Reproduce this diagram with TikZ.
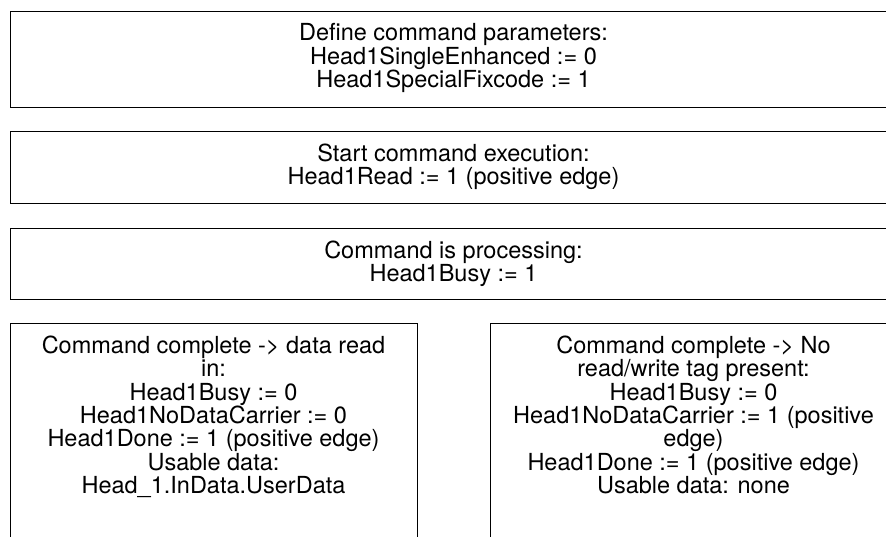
\documentclass[tikz,border=0pt]{standalone}
\usepackage{fontspec}
\setmainfont{TeX Gyre Heros}
\newcommand{\toprule}{\rule{0pt}{18pt}}
\begin{document}
\begin{tikzpicture}[x=1pt,y=-1pt,
  box/.style={draw=black, line width=1.2pt, rectangle, inner sep=0pt, anchor=north west},
  txt/.style={align=center, inner sep=0pt, anchor=north, font=\fontsize{23.5}{23.4}\selectfont}]
\useasboundingbox (0,0) rectangle (886,536);
\clip (0,0) rectangle (886,536);
\node[box, minimum width=887pt, minimum height=96pt] (b1) at (10,11) {};
\node[box, minimum width=887pt, minimum height=72pt] (b2) at (10,131) {};
\node[box, minimum width=887pt, minimum height=71pt] (b3) at (10,228) {};
\node[box, minimum width=407pt, minimum height=230pt] (b4) at (10,323) {};
\node[box, minimum width=407pt, minimum height=230pt] (b5) at (490,323) {};
\node[txt] (t1) at (453.5,22.7) {\toprule Define command parameters:\\Head1SingleEnhanced := 0\\Head1SpecialFixcode := 1};
\node[txt] (t2) at (453.5,143) {\toprule Start command execution:\\Head1Read := 1 (positive edge)};
\node[txt] (t3) at (453.5,240.3) {\toprule Command is processing:\\Head1Busy := 1};
\node[txt] (t4) at (213.5,335) {\toprule Command complete -> data read\\in:\\Head1Busy := 0\\Head1NoDataCarrier := 0\\Head1Done := 1 (positive edge)\\Usable data:\\Head\_1.InData.UserData};
\node[txt] (t5) at (693.5,335) {\toprule Command complete -> No\\read/write tag present:\\Head1Busy := 0\\Head1NoDataCarrier := 1 (positive\\edge)\\Head1Done := 1 (positive edge)\\Usable data: none};
\end{tikzpicture}
\end{document}
